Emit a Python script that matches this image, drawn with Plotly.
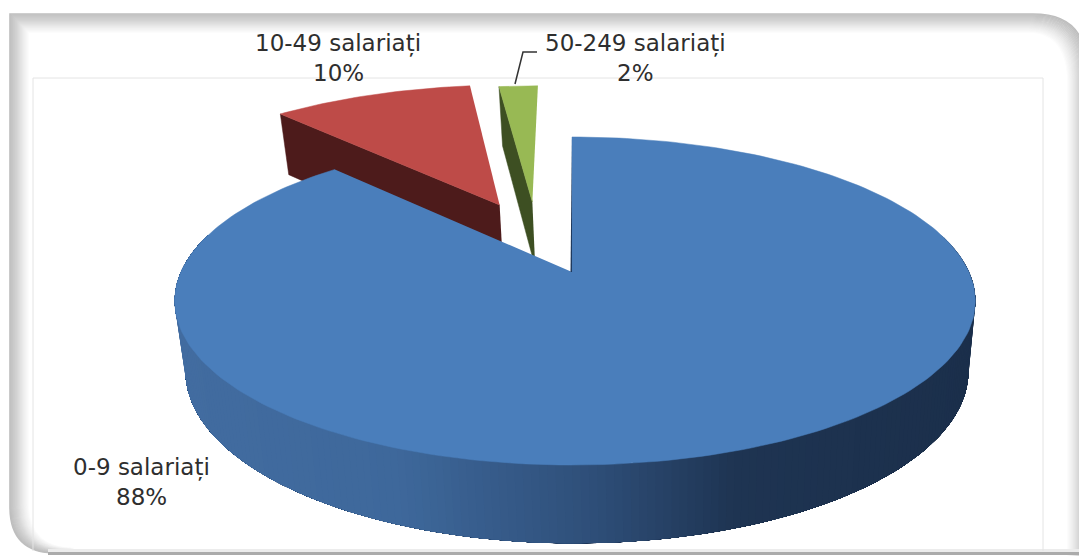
import numpy as np
import plotly.graph_objects as go

# data
categories = ["0-9 salariați", "10-49 salariați", "50-249 salariați"]
values = [88, 10, 2]

# look
face_colors = ["#4a7ebb", "#be4b48", "#98b954"]
cut_colors = ["#1f3a5f", "#4d1b1b", "#3d4f22"]
explode = [(0.0, 0.0), (-0.2, 0.456), (-0.11, 0.478)]
slice_scale = [1.0, 1.03, 1.0]
label_pos = [(141, 467, 497), (338, 43, 73), (635, 43, 73)]
FONT = "DejaVu Sans"
TXT = "#2e2e2e"

# 3D perspective pie projection (pie plane -> picture)
K, A_, B_, CX = 0.1768, -110.8, 272.0, 572.0
R_LEFT, R_RIGHT = 391.0, 397.0


def project(s, c):
    den = 1 + K * c
    r = R_LEFT if s < 0 else R_RIGHT
    return CX + r * s / den, (A_ * c + B_) / den


def drop(x, y):
    return CX + 2 + (x - CX) * 0.978, y + 60 + (y - 100) * 0.05


def polar(deg, off=(0, 0), scale=1.0):
    a = np.radians(deg)
    return project(scale * np.sin(a) + off[0], scale * np.cos(a) + off[1])


def mix(stops, t):
    xs = [p[0] for p in stops]
    rgb = [np.interp(t, xs, [p[1][i] for p in stops]) for i in range(3)]
    return "rgb(%d,%d,%d)" % tuple(int(round(v)) for v in rgb)


fig = go.Figure()


def poly(xs, ys, color, line=0):
    fig.add_trace(go.Scatter(
        x=list(xs), y=list(ys), mode="lines", fill="toself", fillcolor=color,
        line=dict(color=color, width=line), hoverinfo="skip", showlegend=False))


total = sum(values)
edges = np.cumsum([0] + values) / total * 360

# exploded slices first (behind the big one)
for i in (1, 2):
    a0, a1 = edges[i], edges[i + 1]
    off = explode[i]
    sc = slice_scale[i]
    ax, ay = project(*off)
    cx, cy = polar(a0, off, sc)
    lo = [drop(ax, ay), drop(cx, cy)]
    poly([ax, cx, lo[1][0], lo[0][0]], [ay, cy, lo[1][1], lo[0][1]], cut_colors[i], 0.5)
    arc = [polar(a, off, sc) for a in np.linspace(a0, a1, 30)]
    poly([ax] + [p[0] for p in arc], [ay] + [p[1] for p in arc], face_colors[i], 0.5)

# outer wall of the big slice, shaded band by band (each band overpaints the rest of the wall)
wall_stops = [(175, (66, 108, 160)), (400, (62, 104, 155)), (600, (46, 78, 120)),
              (740, (30, 52, 82)), (975, (27, 47, 75))]
WALL_END = 284.0
steps = np.arange(76, WALL_END, 1.0)
for a in steps:
    angles = np.linspace(a, WALL_END, max(2, int((WALL_END - a) / 1.5) + 2))
    up = [polar(t) for t in angles]
    lo = [drop(*p) for p in up]
    pts = up + lo[::-1]
    poly([p[0] for p in pts], [p[1] for p in pts], mix(wall_stops, up[0][0]))

# top of the big slice
arc = [polar(a) for a in np.linspace(edges[0], edges[1], 240)]
ax, ay = project(0, 0)
poly([ax] + [p[0] for p in arc], [ay] + [p[1] for p in arc], face_colors[0], 0.5)
top = polar(0)
poly([top[0], ax - 1.5, ax], [top[1], ay, ay], cut_colors[0])

# leader line of the smallest slice
fig.add_trace(go.Scatter(x=[515, 523, 537], y=[84, 52, 52], mode="lines",
                         line=dict(color="#333333", width=1.5), hoverinfo="skip", showlegend=False))

# frame
shapes = []
band = [(0, (190, 190, 190)), (6, (208, 208, 208)), (12, (232, 232, 232)), (19, (255, 255, 255))]
for i in range(19, -1, -1):
    x0, y0 = 10 + i, 14 + i
    r = 46
    yb = 553 - i * 0.25
    path = (f"M {x0 + r},{yb} Q {x0},{yb} {x0},{yb - r} L {x0},{y0} L {1033 - i * 0.3},{y0} "
            f"Q {1086 - i},{y0} {1086 - i},{y0 + 52} L {1086 - i},560")
    shapes.append(dict(type="path", path=path, line=dict(color=mix(band, i), width=1.6), layer="below"))
shapes.append(dict(type="line", x0=48, x1=1079, y0=553.5, y1=553.5,
                   line=dict(color="#ababab", width=3), layer="below"))
shapes.append(dict(type="line", x0=48, x1=1079, y0=550.5, y1=550.5,
                   line=dict(color="#ececec", width=3), layer="below"))
shapes.append(dict(type="path", path="M 33,551 L 33,78 L 1043,78 L 1043,551",
                   line=dict(color="#e4e4e4", width=1), layer="below"))

# labels
annotations = []
for name, v, (x, y1, y2) in zip(categories, values, label_pos):
    for txt, y in ((name, y1), (f"{v}%", y2)):
        annotations.append(dict(x=x, y=y, text=txt, showarrow=False, xanchor="center", yanchor="middle",
                                font=dict(family=FONT, size=23, color=TXT)))

fig.update_layout(
    width=1079, height=556, margin=dict(l=0, r=0, t=0, b=0),
    paper_bgcolor="white", plot_bgcolor="white", showlegend=False,
    xaxis=dict(range=[0, 1079], visible=False, fixedrange=True),
    yaxis=dict(range=[556, 0], visible=False, fixedrange=True),
    shapes=shapes, annotations=annotations,
)
fig.write_html("out.html", config=dict(displayModeBar=False),
               post_script="document.body.style.margin='0';document.body.style.overflow='hidden';")
